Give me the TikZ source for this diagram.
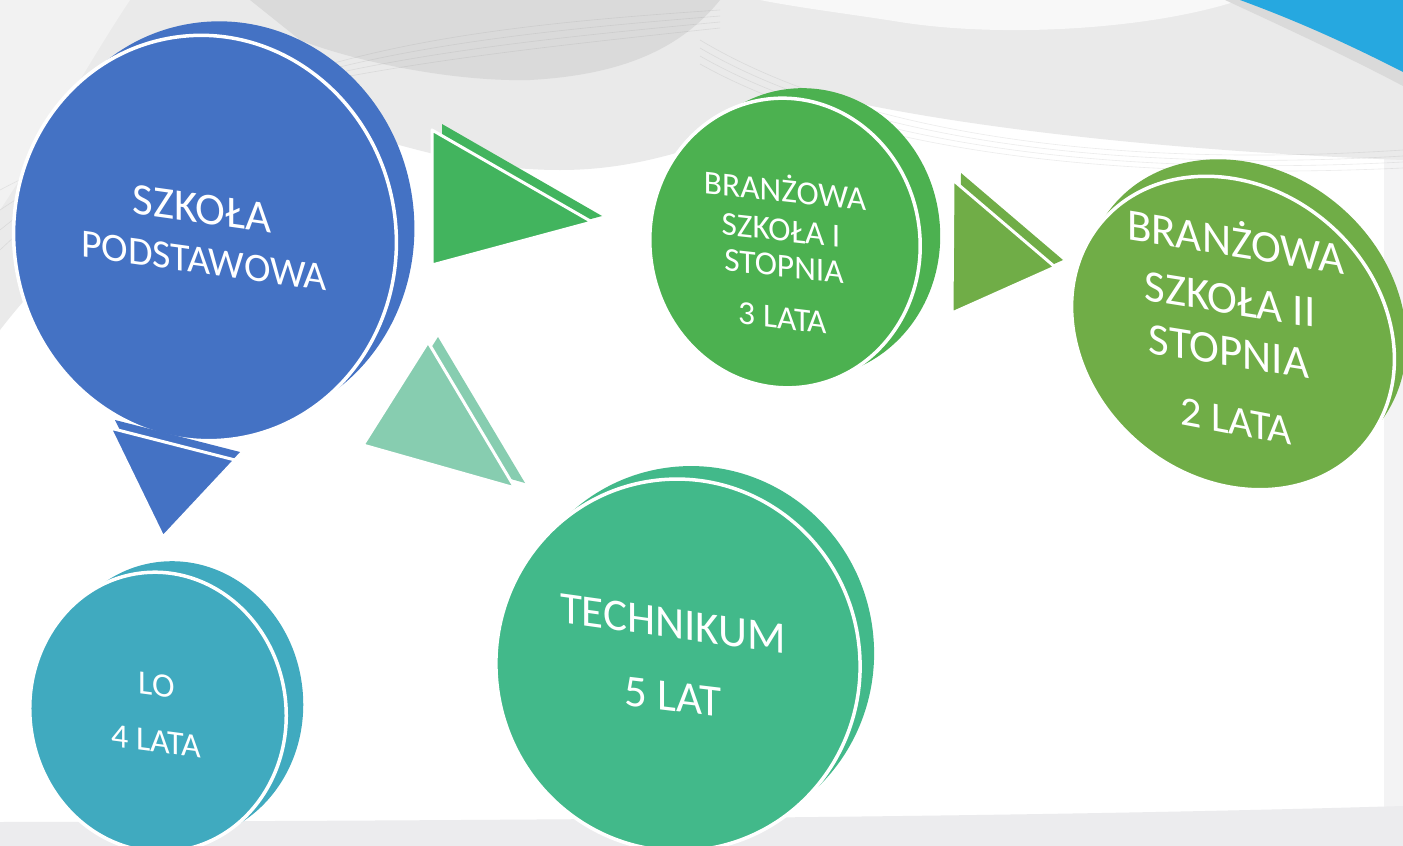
\documentclass[tikz,border=0pt]{standalone}
\usepackage{fontspec}
\setmainfont{Carlito}
\definecolor{swA}{RGB}{234,234,234}
\definecolor{swB}{RGB}{218,218,218}
\definecolor{swL}{RGB}{242,242,242}
\definecolor{swW}{RGB}{248,248,248}
\definecolor{bgbottom}{RGB}{236,236,238}
\definecolor{bgright}{RGB}{243,243,244}
\definecolor{cornerblue}{RGB}{38,168,224}
\definecolor{cblue}{RGB}{68,114,196}
\definecolor{cteal}{RGB}{64,170,191}
\definecolor{ctech}{RGB}{66,185,138}
\definecolor{cmint}{RGB}{135,205,176}
\definecolor{cgreenA}{RGB}{66,180,94}
\definecolor{cgreenB}{RGB}{76,177,80}
\definecolor{colive}{RGB}{112,173,71}
\newcommand{\mydisc}[8]{%
  \fill[#1] ({#2+#6},{#3+#7}) ellipse [x radius=#4, y radius=#5, rotate=#8];
  \filldraw[fill=#1, draw=white, line width=3.5pt] (#2,#3) ellipse [x radius=#4, y radius=#5, rotate=#8];}
\newcommand{\mytri}[9]{%
  \fill[#1, line join=round] ({#2+#8},{#3+#9}) -- ({#4+#8},{#5+#9}) -- ({#6+#8},{#7+#9}) -- cycle;
  \filldraw[fill=#1, draw=white, line width=3pt, line join=round] (#2,#3) -- (#4,#5) -- (#6,#7) -- cycle;}
\tikzset{txt/.style={text=white, inner sep=0pt, anchor=base}}
\begin{document}
\begin{tikzpicture}[x=1pt,y=-1pt]
\useasboundingbox (0,0) rectangle (1403,846);
\clip (0,0) rectangle (1403,846);
% background
\fill[white] (0,0) rectangle (1403,846);
\fill[bgright] (1384,60) -- (1403,60) -- (1403,846) -- (1384,846) -- cycle;
\fill[swA] (0,0) -- (1403,0) -- (1403,160) .. controls (1150,150) and (950,125) .. (830,97)
  .. controls (720,140) and (650,170) .. (560,170) .. controls (480,170) and (420,150) .. (380,140)
  .. controls (250,110) and (100,200) .. (0,330) -- cycle;
\fill[swB] (250,0) -- (720,0) .. controls (680,50) and (620,75) .. (530,80)
  .. controls (450,82) and (350,60) .. (300,40) -- cycle;
\fill[swL] (0,0) -- (130,0) .. controls (90,60) and (40,150) .. (0,210) -- cycle;
\fill[swW] (760,0) -- (1240,0) .. controls (1150,30) and (1000,38) .. (900,22) .. controls (850,14) and (800,8) .. (760,0) -- cycle;
\foreach \k in {0,1,2,3} {
  \draw[gray, opacity=0.15, line width=0.6pt] (0,{250-20*\k}) .. controls (200,{60+8*\k}) and (420,{30+10*\k}) .. (720,{10+6*\k});
  \draw[gray, opacity=0.15, line width=0.6pt] (700,{40+8*\k}) .. controls (850,{130+6*\k}) and (1100,{170+4*\k}) .. (1403,{150+6*\k});
}
\fill[bgbottom] (0,822) .. controls (700,820) and (1100,815) .. (1403,806) -- (1403,846) -- (0,846) -- cycle;
\fill[swB] (1225,0) .. controls (1290,30) and (1350,58) .. (1403,86) -- (1403,0) -- cycle;
\fill[cornerblue] (1240,0) .. controls (1300,22) and (1350,45) .. (1403,72) -- (1403,0) -- cycle;
% discs
\mydisc{cblue}{205}{238}{191}{203}{18}{-14}{10}
\mydisc{cteal}{158}{712}{128}{140}{17}{-11}{8}
\mydisc{ctech}{678}{665}{182}{186}{14}{-13}{8}
\mydisc{cgreenB}{785}{243}{135}{145}{20}{-10}{8}
\mydisc{colive}{1233}{333}{172}{145}{12}{-17}{-40}
% triangles
\mytri{cgreenA}{432}{130}{432}{265}{592}{222}{10}{-6}
\mytri{cmint}{428}{342}{363}{445}{515}{488}{10}{-5}
\mytri{cblue}{110}{428}{235}{460}{163}{537}{5}{-8}
\mytri{colive}{953}{180}{952}{313}{1055}{267}{8}{-7}
% texts
\node[txt, font=\fontsize{45}{54}\selectfont, yslant=-0.14] (sp1) at (202,223) {SZKOŁA};
\node[txt, font=\fontsize{40}{48}\selectfont, yslant=-0.14] (sp2) at (204,274) {PODSTAWOWA};
\node[txt, font=\fontsize{34}{41}\selectfont, yslant=-0.13] (lo1) at (157,696) {LO};
\node[txt, font=\fontsize{34}{41}\selectfont, yslant=-0.13] (lo2) at (156,752) {4 LATA};
\node[txt, font=\fontsize{45}{54}\selectfont, yslant=-0.14] (te1) at (673,638) {TECHNIKUM};
\node[txt, font=\fontsize{45}{54}\selectfont, yslant=-0.12] (te2) at (673,711) {5 LAT};
\node[txt, font=\fontsize{33.5}{40}\selectfont, yslant=-0.11] (ba1) at (785,202) {BRANŻOWA};
\node[txt, font=\fontsize{33.5}{40}\selectfont, yslant=-0.11] (ba2) at (781,241) {SZKOŁA I};
\node[txt, font=\fontsize{33.5}{40}\selectfont, yslant=-0.11] (ba3) at (784,277) {STOPNIA};
\node[txt, font=\fontsize{33.5}{40}\selectfont, yslant=-0.12] (ba4) at (783,329) {3 LATA};
\node[txt, font=\fontsize{45}{54}\selectfont, yslant=-0.16] (bb1) at (1236,257) {BRANŻOWA};
\node[txt, font=\fontsize{45}{54}\selectfont, yslant=-0.16] (bb2) at (1230,314) {SZKOŁA II};
\node[txt, font=\fontsize{45}{54}\selectfont, yslant=-0.16] (bb3) at (1229,366) {STOPNIA};
\node[txt, font=\fontsize{42}{50}\selectfont, yslant=-0.19] (bb4) at (1236,435) {2 LATA};
\end{tikzpicture}
\end{document}
